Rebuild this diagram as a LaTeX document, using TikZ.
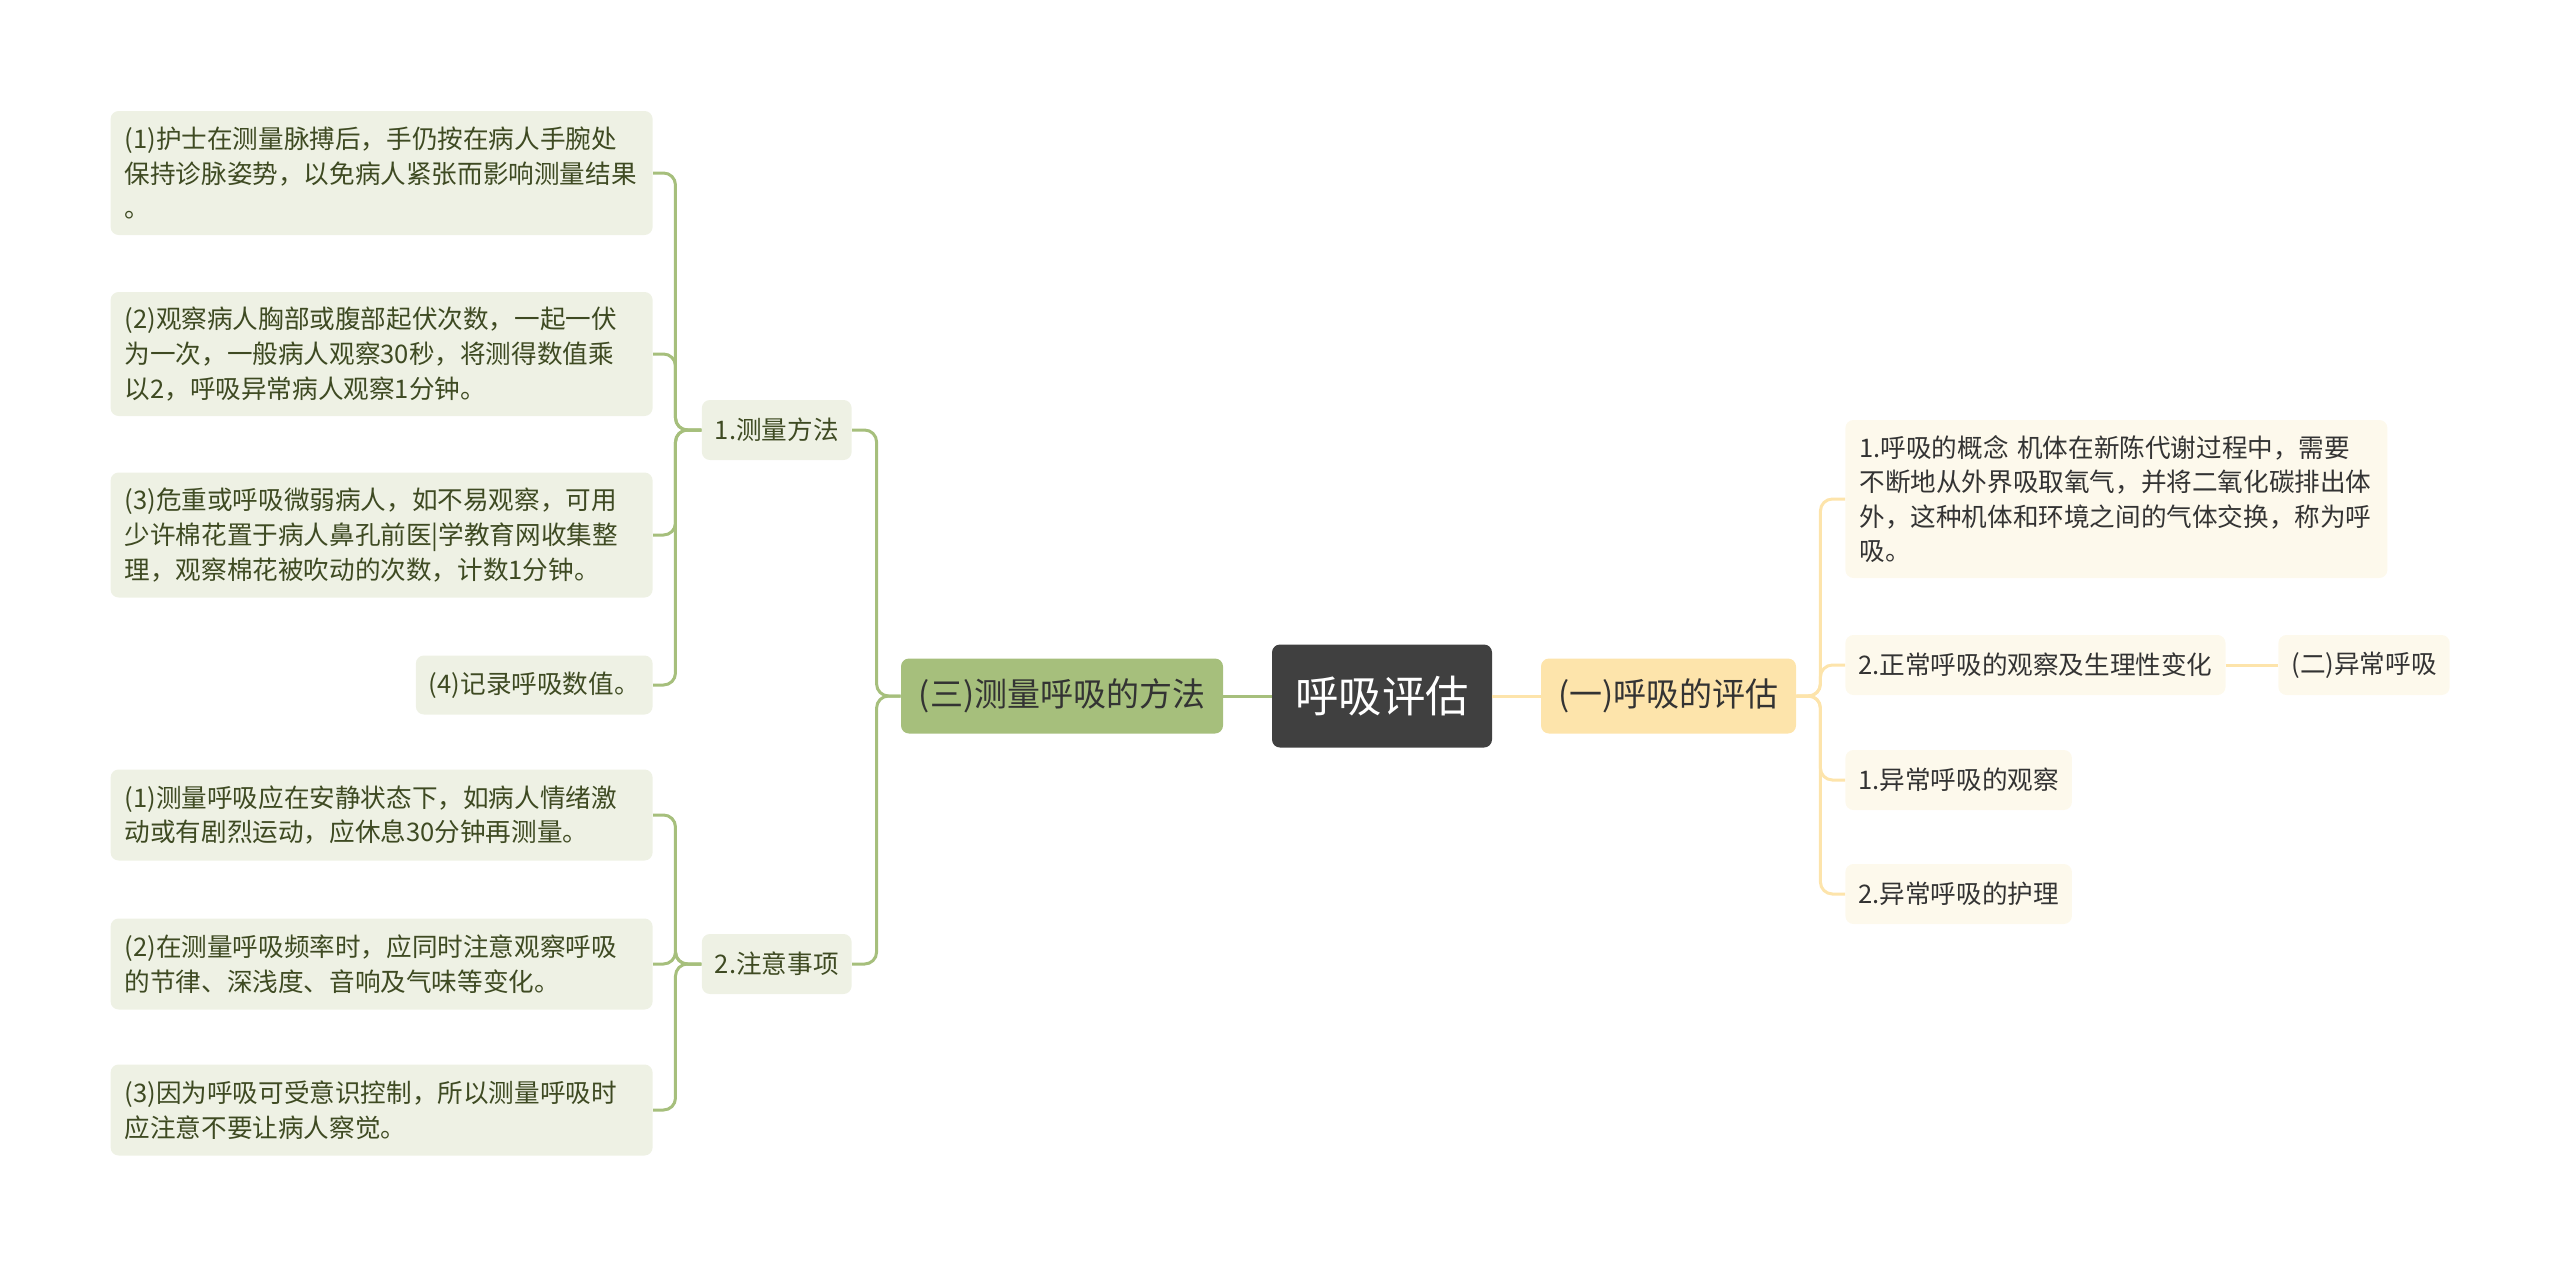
\documentclass[tikz,border=0pt]{standalone}
\usepackage{fontspec}
\setmainfont{Noto Sans CJK SC}

\definecolor{rootgray}{HTML}{404040}
\definecolor{greenmain}{HTML}{A6BF7C}
\definecolor{greenlight}{HTML}{EEF1E4}
\definecolor{greentext}{HTML}{3E4A22}
\definecolor{orangemain}{HTML}{FDE4AB}
\definecolor{orangelight}{HTML}{FDF9EC}
\definecolor{darktext}{HTML}{333333}

\begin{document}
\begin{tikzpicture}[
            x=0.5pt, y=-0.5pt,
            box/.style={rounded corners=4pt, inner xsep=6.5pt, inner ysep=0pt,
                minimum height=30pt, font=\fontsize{12.8}{17.3}\selectfont},
            root/.style={box, fill=rootgray, text=white, minimum width=110pt,
                minimum height=51.5pt, font=\fontsize{21.7}{26}\selectfont},
            lmain/.style={box, fill=greenmain, text=black!80, minimum width=161pt,
                minimum height=37.5pt, font=\fontsize{16.5}{20}\selectfont},
            rmain/.style={box, fill=orangemain, text=black!80, minimum width=127.5pt,
                minimum height=37.5pt, font=\fontsize{16.5}{20}\selectfont},
            lleaf/.style={box, fill=greenlight, text=greentext},
            lpara/.style={lleaf, text width=257pt, align=left, inner xsep=7pt},
            rleaf/.style={box, fill=orangelight, text=darktext},
            rpara/.style={rleaf, text width=257pt, align=left, inner xsep=7pt},
            lline/.style={draw=greenmain, line width=1.5pt, rounded corners=6pt,
                to path={(\tikztostart) -- ++(-#1,0) |- (\tikztotarget)}},
            rline/.style={draw=orangemain, line width=1.5pt, rounded corners=6pt,
                to path={(\tikztostart) -- ++(#1,0) |- (\tikztotarget)}}]
            \useasboundingbox (0,0) rectangle (2560,1269);

            % centre
            \node [root] (root) at (1382,696) {呼吸评估};
            \node [lmain] (lm) at (1062,696) {(三)测量呼吸的方法};
            \node [rmain] (rm) at (1668.5,696) {(一)呼吸的评估};

            % left side
            \node [lleaf, anchor=east] (m1) at (852,430) {1.测量方法};
            \node [lleaf, anchor=east] (m2) at (852,964) {2.注意事项};

            \node [lpara, anchor=east, minimum height=62pt] (b1) at (653,173)
                {(1)护士在测量脉搏后，手仍按在病人手腕处\\保持诊脉姿势，以免病人紧张而影响测量结果\\。};
            \node [lpara, anchor=east, minimum height=62pt] (b2) at (653,354)
                {(2)观察病人胸部或腹部起伏次数，一起一伏\\为一次，一般病人观察30秒，将测得数值乘\\以2，呼吸异常病人观察1分钟。};
            \node [lpara, anchor=east, minimum height=62.5pt] (b3) at (653,535)
                {(3)危重或呼吸微弱病人，如不易观察，可用\\少许棉花置于病人鼻孔前医|学教育网收集整\\理，观察棉花被吹动的次数，计数1分钟。};
            \node [lleaf, anchor=east, minimum height=29.5pt] (b4) at (653,685) {(4)记录呼吸数值。};

            \node [lpara, anchor=east, minimum height=45.5pt] (c1) at (653,815)
                {(1)测量呼吸应在安静状态下，如病人情绪激\\动或有剧烈运动，应休息30分钟再测量。};
            \node [lpara, anchor=east, minimum height=45.5pt] (c2) at (653,964)
                {(2)在测量呼吸频率时，应同时注意观察呼吸\\的节律、深浅度、音响及气味等变化。};
            \node [lpara, anchor=east, minimum height=45.5pt] (c3) at (653,1110)
                {(3)因为呼吸可受意识控制，所以测量呼吸时\\应注意不要让病人察觉。};

            % right side
            \node [rpara, anchor=west, minimum height=79pt] (a1) at (1845,499)
                {1.呼吸的概念 机体在新陈代谢过程中，需要\\不断地从外界吸取氧气，并将二氧化碳排出体\\外，这种机体和环境之间的气体交换，称为呼\\吸。};
            \node [rleaf, anchor=west] (a2) at (1845,665) {2.正常呼吸的观察及生理性变化};
            \node [rleaf, anchor=west] (a2b) at (2278,665) {(二)异常呼吸};
            \node [rleaf, anchor=west] (a3) at (1845,780) {1.异常呼吸的观察};
            \node [rleaf, anchor=west] (a4) at (1845,894) {2.异常呼吸的护理};

            % connectors
            \draw [greenmain, line width=1.5pt] (root.west) -- (lm.east);
            \draw [orangemain, line width=1.5pt] (root.east) -- (rm.west);
            \draw [orangemain, line width=1.5pt] (a2.east) -- (a2b.west);

            \path (lm.west) edge [lline=24] (m1.east)
                            edge [lline=24] (m2.east)
                  (m1.west) edge [lline=26] (b1.east)
                            edge [lline=26] (b2.east)
                            edge [lline=26] (b3.east)
                            edge [lline=26] (b4.east)
                  (m2.west) edge [lline=26] (c1.east)
                            edge [lline=26] (c2.east)
                            edge [lline=26] (c3.east)
                  (rm.east) edge [rline=24] (a1.west)
                            edge [rline=24] (a2.west)
                            edge [rline=24] (a3.west)
                            edge [rline=24] (a4.west);

        \end{tikzpicture}
\end{document}
